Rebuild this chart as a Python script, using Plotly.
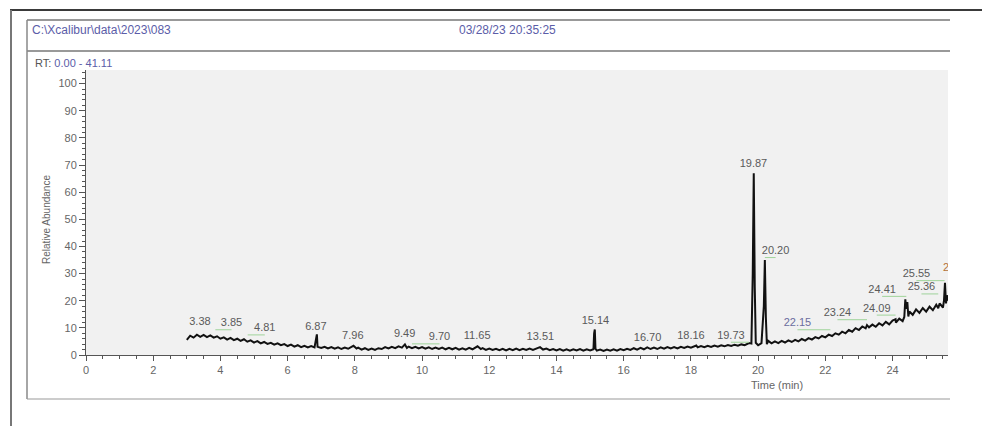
import plotly.graph_objects as go

# ---------------- data ----------------
time_min = [
    3.00, 3.10, 3.20, 3.30, 3.40, 3.50, 3.60, 3.70, 3.80, 3.90,
    4.00, 4.10, 4.20, 4.30, 4.40, 4.50, 4.60, 4.70, 4.80, 4.90,
    5.00, 5.10, 5.20, 5.30, 5.40, 5.50, 5.60, 5.70, 5.80, 5.90,
    6.00, 6.10, 6.20, 6.30, 6.40, 6.50, 6.60, 6.70, 6.80, 6.85, 6.87, 6.89,
    7.00, 7.10, 7.20, 7.30, 7.40, 7.50, 7.60, 7.70, 7.80, 7.90, 7.96,
    8.05, 8.10, 8.20, 8.30, 8.40, 8.50, 8.60, 8.70, 8.80, 8.90,
    9.00, 9.10, 9.20, 9.30, 9.40, 9.49, 9.55, 9.60, 9.70, 9.80, 9.90,
    10.00, 10.10, 10.20, 10.30, 10.40, 10.50, 10.60, 10.70, 10.80, 10.90,
    11.00, 11.10, 11.20, 11.30, 11.40, 11.50, 11.65, 11.75, 11.80, 11.90,
    12.00, 12.10, 12.20, 12.30, 12.40, 12.50, 12.60, 12.70, 12.80, 12.90,
    13.00, 13.10, 13.20, 13.30, 13.40, 13.51, 13.60, 13.70, 13.80, 13.90,
    14.00, 14.10, 14.20, 14.30, 14.40, 14.50, 14.60, 14.70, 14.80, 14.90,
    15.00, 15.10, 15.12, 15.14, 15.16, 15.20, 15.30, 15.40, 15.50, 15.60, 15.70, 15.80, 15.90,
    16.00, 16.10, 16.20, 16.30, 16.40, 16.50, 16.60, 16.70, 16.80, 16.90,
    17.00, 17.10, 17.20, 17.30, 17.40, 17.50, 17.60, 17.70, 17.80, 17.90,
    18.00, 18.16, 18.20, 18.30, 18.40, 18.50, 18.60, 18.70, 18.80, 18.90,
    19.00, 19.10, 19.20, 19.30, 19.40, 19.50, 19.60, 19.73, 19.80, 19.84, 19.87, 19.90, 19.93,
    20.00, 20.10, 20.17, 20.20, 20.23, 20.26, 20.30, 20.40, 20.50, 20.60, 20.70, 20.80, 20.90,
    21.00, 21.10, 21.20, 21.30, 21.40, 21.50, 21.60, 21.70, 21.80, 21.90,
    22.00, 22.10, 22.20, 22.30, 22.40, 22.50, 22.60, 22.70, 22.80, 22.90,
    23.00, 23.10, 23.20, 23.24, 23.30, 23.40, 23.50, 23.60, 23.70, 23.80, 23.90,
    24.00, 24.09, 24.10, 24.20, 24.30, 24.35, 24.38, 24.41, 24.44, 24.47, 24.50, 24.60, 24.70, 24.80, 24.90,
    25.00, 25.10, 25.20, 25.30, 25.36, 25.40, 25.50, 25.53, 25.56, 25.59, 25.62, 25.65,
]
abundance = [
    5.6, 7.1, 6.4, 7.5, 6.7, 7.4, 6.6, 7.2, 6.4, 6.9,
    6.0, 6.5, 5.7, 6.3, 5.5, 6.0, 5.2, 5.8, 4.9, 5.4,
    4.6, 5.1, 4.3, 4.8, 4.1, 4.5, 3.8, 4.3, 3.6, 4.0,
    3.3, 3.8, 3.1, 3.6, 2.9, 3.4, 2.8, 3.3, 2.8, 6.5, 7.6, 3.0,
    2.6, 3.0, 2.4, 2.9, 2.3, 2.8, 2.2, 2.7, 2.3, 3.0, 3.4,
    2.4, 2.7, 2.0, 2.5, 1.9, 2.4, 1.9, 2.5, 2.2, 2.9,
    2.4, 3.0, 2.5, 3.2, 2.7, 3.9, 2.6, 3.1, 2.5, 3.0, 2.4,
    2.9, 2.3, 2.8, 2.2, 2.7, 2.2, 2.7, 2.1, 2.6, 2.1,
    2.6, 2.0, 2.5, 2.0, 2.6, 2.1, 3.2, 2.2, 2.5, 1.9,
    2.4, 1.9, 2.3, 1.8, 2.3, 1.7, 2.3, 1.8, 2.4, 1.8,
    2.3, 1.9, 2.4, 1.9, 2.5, 2.9, 2.0, 2.4, 1.8, 2.2,
    1.7, 2.2, 1.6, 2.1, 1.6, 2.1, 1.7, 2.2, 1.6, 2.1,
    1.7, 2.1, 8.0, 9.4, 2.3, 1.6, 2.0, 1.5, 2.0, 1.6, 2.1, 1.6, 2.2,
    1.8, 2.3, 1.9, 2.5, 2.0, 2.6, 2.1, 2.8, 2.2, 2.7,
    2.2, 2.8, 2.3, 2.9, 2.4, 2.9, 2.4, 3.0, 2.6, 3.1,
    2.7, 3.5, 2.8, 3.3, 2.9, 3.4, 3.0, 3.5, 3.1, 3.6,
    3.2, 3.7, 3.3, 3.8, 3.4, 3.9, 3.6, 4.4, 4.2, 30.0, 67.0, 25.0, 4.5,
    3.6, 4.4, 18.0, 35.0, 14.0, 4.0, 5.2, 4.3, 5.0, 4.4, 5.2, 4.6, 5.4,
    4.8, 5.6, 5.0, 5.9, 5.3, 6.2, 5.7, 6.6, 6.1, 7.0,
    6.5, 7.5, 7.0, 8.0, 7.5, 8.6, 8.0, 9.2, 8.6, 9.9,
    9.2, 10.5, 9.8, 11.0, 10.2, 11.2, 10.4, 11.7, 10.9, 12.2, 11.3,
    12.7, 13.2, 11.9, 13.4, 12.5, 14.0, 20.5, 17.0, 19.5, 14.2, 16.0, 14.8, 16.8, 15.5, 17.3,
    16.0, 17.8, 16.5, 18.5, 17.2, 19.0, 17.5, 20.0, 26.6, 19.0, 22.0, 20.0,
]

# peak labels: text, retention time of the peak, label anchor (time, abundance)
peak_labels = ["3.38", "3.85", "4.81", "6.87", "7.96", "9.49", "9.70", "11.65", "13.51",
               "15.14", "16.70", "18.16", "19.73", "19.87", "20.20", "22.15", "23.24",
               "24.09", "24.41", "25.36", "25.55", "25.62"]
peak_rt = [3.38, 3.85, 4.81, 6.87, 7.96, 9.49, 9.70, 11.65, 13.51,
           15.14, 16.70, 18.16, 19.73, 19.87, 20.20, 22.15, 23.24,
           24.09, 24.41, 25.36, 25.55, 25.62]
label_time = [3.39, 4.33, 5.32, 6.84, 7.94, 9.48, 10.52, 11.64, 13.52,
              15.16, 16.71, 18.00, 19.19, 19.86, 20.52, 21.17, 22.36,
              23.53, 23.69, 24.86, 24.71, 25.91]
label_level = [11.9, 11.6, 9.7, 10.4, 6.8, 7.6, 6.4, 6.8, 6.4,
               12.5, 6.0, 6.8, 7.0, 70.1, 38.2, 11.6, 15.3,
               17.0, 23.9, 24.8, 29.7, 31.8]

x_ticks = [0, 2, 4, 6, 8, 10, 12, 14, 16, 18, 20, 22, 24]
y_ticks = [0, 10, 20, 30, 40, 50, 60, 70, 80, 90, 100]

header_path = r"C:\Xcalibur\data\2023\083"
header_date = "03/28/23 20:35:25"
rt_range = "0.00 - 41.11"

# ---------------- layout helpers (pixel -> paper) ----------------
W, H = 982, 426
L, R, T, B = 86, 34, 70, 71
PW, PH = W - L - R, H - T - B


def px(x):
    return (x - L) / PW


def py(y):
    return (H - B - y) / PH


FONT = "Liberation Sans, Arial, sans-serif"
GRAY = "#5a5a5a"
BLUE = "#5b5da8"

fig = go.Figure()

fig.add_trace(go.Scatter(
    x=time_min, y=abundance, mode="lines",
    line=dict(color="#111111", width=2.0),
    hoverinfo="skip", showlegend=False,
))

# green leader lines from label to peak
lead_x, lead_y = [], []
for lt, ll, rt in zip(label_time, label_level, peak_rt):
    if abs(lt - rt) > 0.25 and rt < 25.6:
        lead_x += [lt, rt, None]
        lead_y += [ll - 2.3, ll - 2.3, None]
fig.add_trace(go.Scatter(
    x=lead_x, y=lead_y, mode="lines",
    line=dict(color="#9fd39a", width=1),
    hoverinfo="skip", showlegend=False,
))

label_colors = [GRAY] * len(peak_labels)
label_colors[15] = "#6b6d9e"
label_colors[-1] = "#b5743a"
fig.add_trace(go.Scatter(
    x=label_time, y=label_level, mode="text", text=peak_labels,
    textposition="middle center",
    textfont=dict(family=FONT, size=11, color=label_colors),
    cliponaxis=True, hoverinfo="skip", showlegend=False,
))

axis_common = dict(
    showline=True, linecolor="#555", linewidth=1,
    ticks="outside", tickcolor="#555", tickwidth=1,
    showgrid=False, zeroline=False,
    tickfont=dict(family=FONT, size=11, color="#666"),
    fixedrange=True,
)
fig.update_xaxes(range=[0, 25.65], tickvals=x_ticks, ticklen=5,
                 minor=dict(dtick=0.5, ticklen=3, ticks="outside", tickcolor="#555", showgrid=False),
                 **axis_common)
fig.update_yaxes(range=[0, 105], tickvals=y_ticks, ticklen=6,
                 minor=dict(dtick=2, ticklen=3, ticks="outside", tickcolor="#555", showgrid=False),
                 **axis_common)

annotations = [
    dict(text=header_path, x=px(30), y=py(30), xanchor="left", yanchor="middle",
         font=dict(family=FONT, size=12, color=BLUE)),
    dict(text=header_date, x=px(457), y=py(30), xanchor="left", yanchor="middle",
         font=dict(family=FONT, size=12, color=BLUE)),
    dict(text="RT: <span style='color:%s'>%s</span>" % (BLUE, rt_range),
         x=px(33), y=py(63), xanchor="left", yanchor="middle",
         font=dict(family=FONT, size=11, color="#555")),
    dict(text="Relative Abundance", x=px(46), y=py(220), textangle=-90,
         xanchor="center", yanchor="middle",
         font=dict(family=FONT, size=10, color="#666")),
    dict(text="Time (min)", x=px(777), y=py(385), xanchor="center", yanchor="middle",
         font=dict(family=FONT, size=11, color="#666")),
]
for a in annotations:
    a.update(xref="paper", yref="paper", showarrow=False)

line_specs = [
    # outer frame
    (10, 10, 982, 10, "#3a3a3a", 2),
    (11, 10, 11, 426, "#777", 2),
    # header box and chart box
    (27, 20, 950, 20, "#777", 1.5),
    (27, 51, 950, 51, "#777", 1.5),
    (27, 20, 27, 399, "#888", 1.5),
    (27, 399, 950, 399, "#999", 1.2),
]
shapes = [dict(type="line", xref="paper", yref="paper",
               x0=px(a), y0=py(b), x1=px(c), y1=py(d),
               line=dict(color=col, width=w)) for a, b, c, d, col, w in line_specs]

fig.update_layout(
    width=W, height=H,
    margin=dict(l=L, r=R, t=T, b=B),
    paper_bgcolor="white", plot_bgcolor="#f1f1f1",
    annotations=annotations, shapes=shapes,
    font=dict(family=FONT),
)

fig.write_html("out.html",
               config={"displayModeBar": False, "staticPlot": True},
               post_script="document.body.style.margin='0';document.body.style.overflow='hidden';")
